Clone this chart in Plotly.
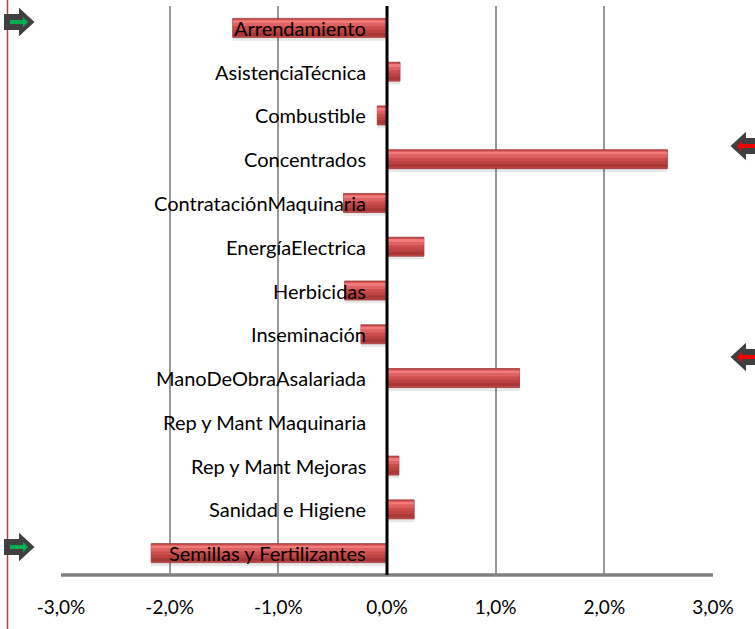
import plotly.graph_objects as go

categories = ["Arrendamiento", "AsistenciaTécnica", "Combustible", "Concentrados",
              "ContrataciónMaquinaria", "EnergíaElectrica", "Herbicidas", "Inseminación",
              "ManoDeObraAsalariada", "Rep y Mant Maquinaria", "Rep y Mant Mejoras",
              "Sanidad e Higiene", "Semillas y Fertilizantes"]
values = [-0.0142, 0.0012, -0.0009, 0.0258, -0.0040, 0.0034, -0.0039, -0.0024,
          0.0122, 0.0, 0.0011, 0.0025, -0.0217]
tick_vals = [-0.03, -0.02, -0.01, 0.0, 0.01, 0.02, 0.03]
tick_text = ["-3,0%", "-2,0%", "-1,0%", "0,0%", "1,0%", "2,0%", "3,0%"]

W, H = 755, 629
L, R, T, B = 61, 713, 6, 575


def px(x):
    return (x - L) / (R - L)


def py(y):
    return (B - y) / (B - T)


def path(points):
    return "M " + " L ".join(f"{px(x):.5f},{py(y):.5f}" for x, y in points) + " Z"


ypos = list(range(len(categories)))

fig = go.Figure()
# soft shadow
fig.add_trace(go.Bar(y=ypos, x=values, orientation="h", width=0.434, offset=-0.14,
                     marker=dict(color="rgba(0,0,0,0.09)", line=dict(width=0)),
                     hoverinfo="skip"))
# main body
fig.add_trace(go.Bar(y=ypos, x=values, orientation="h", width=0.434, offset=-0.217,
                     marker=dict(color="#cd4c4c", line=dict(color="#8e2c2c", width=0.7)),
                     hoverinfo="skip"))
# top highlight
fig.add_trace(go.Bar(y=ypos, x=values, orientation="h", width=0.07, offset=-0.175,
                     marker=dict(color="#ef7b7b", line=dict(width=0)), hoverinfo="skip"))
fig.add_trace(go.Bar(y=ypos, x=values, orientation="h", width=0.07, offset=-0.105,
                     marker=dict(color="#df6262", line=dict(width=0)), hoverinfo="skip"))
# lower shade
fig.add_trace(go.Bar(y=ypos, x=values, orientation="h", width=0.07, offset=0.04,
                     marker=dict(color="#bd4343", line=dict(width=0)), hoverinfo="skip"))
fig.add_trace(go.Bar(y=ypos, x=values, orientation="h", width=0.08, offset=0.11,
                     marker=dict(color="#a83838", line=dict(width=0)), hoverinfo="skip"))

annotations = []
for i, c in enumerate(categories):
    annotations.append(dict(x=0, y=i, xref="x", yref="y", text=c, showarrow=False,
                            xanchor="right", xshift=-19, yshift=0,
                            font=dict(family="Lato", size=20, color="#000000")))

shapes = []
# page border line at left
shapes.append(dict(type="line", xref="paper", yref="paper", x0=px(7.5), x1=px(7.5),
                   y0=py(0), y1=py(629), line=dict(color="#a94444", width=1.5), layer="above"))


def right_arrow(cx, cy):
    outer = [(cx - 13, cy - 7), (cx + 2, cy - 7), (cx + 2, cy - 12), (cx + 15, cy),
             (cx + 2, cy + 12), (cx + 2, cy + 7), (cx - 13, cy + 7)]
    inner = [(cx - 8, cy - 2), (cx + 5, cy - 2), (cx + 5, cy - 5), (cx + 10, cy),
             (cx + 5, cy + 5), (cx + 5, cy + 2), (cx - 8, cy + 2)]
    return outer, inner


def left_arrow(cx, cy):
    outer = [(cx + 13, cy - 7), (cx - 2, cy - 7), (cx - 2, cy - 12), (cx - 15, cy),
             (cx - 2, cy + 12), (cx - 2, cy + 7), (cx + 13, cy + 7)]
    inner = [(cx + 13, cy - 2), (cx - 5, cy - 2), (cx - 5, cy - 5), (cx - 10, cy),
             (cx - 5, cy + 5), (cx - 5, cy + 2), (cx + 13, cy + 2)]
    return outer, inner


for (cx, cy) in [(18, 22), (18, 547)]:
    o, i = right_arrow(cx, cy)
    shapes.append(dict(type="path", xref="paper", yref="paper", path=path(o),
                       fillcolor="#404040", line=dict(color="#404040", width=2), layer="above"))
    shapes.append(dict(type="path", xref="paper", yref="paper", path=path(i),
                       fillcolor="#00b050", line=dict(width=0), layer="above"))
for (cx, cy) in [(747, 146), (747, 357)]:
    o, i = left_arrow(cx, cy)
    shapes.append(dict(type="path", xref="paper", yref="paper", path=path(o),
                       fillcolor="#404040", line=dict(color="#404040", width=2), layer="above"))
    shapes.append(dict(type="path", xref="paper", yref="paper", path=path(i),
                       fillcolor="#ff0000", line=dict(width=0), layer="above"))

# bottom axis line
shapes.append(dict(type="line", xref="paper", yref="paper", x0=0, x1=1, y0=0, y1=0,
                   line=dict(color="#808080", width=3.5), layer="above"))
# zero line
shapes.append(dict(type="line", xref="x", yref="paper", x0=0, x1=0, y0=0, y1=1,
                   line=dict(color="#000000", width=3), layer="above"))

fig.update_layout(
    width=W, height=H,
    margin=dict(l=L, r=W - R, t=T, b=H - B, pad=0),
    paper_bgcolor="white", plot_bgcolor="white",
    barmode="overlay", showlegend=False,
    annotations=annotations, shapes=shapes,
    xaxis=dict(range=[-0.03, 0.03], tickvals=tick_vals, ticktext=tick_text,
               showgrid=True, gridcolor="#9a9a9a", gridwidth=1.5, zeroline=False,
               showline=False, ticks="", ticklabelstandoff=19,
               tickfont=dict(family="Lato", size=19, color="#000000"), fixedrange=True),
    yaxis=dict(range=[12.5, -0.5], showticklabels=False, showgrid=False,
               zeroline=False, showline=False, ticks="", fixedrange=True),
)

fig.write_html("out.html", config={"displayModeBar": False},
               post_script="document.body.style.margin='0';document.body.style.overflow='hidden';")
